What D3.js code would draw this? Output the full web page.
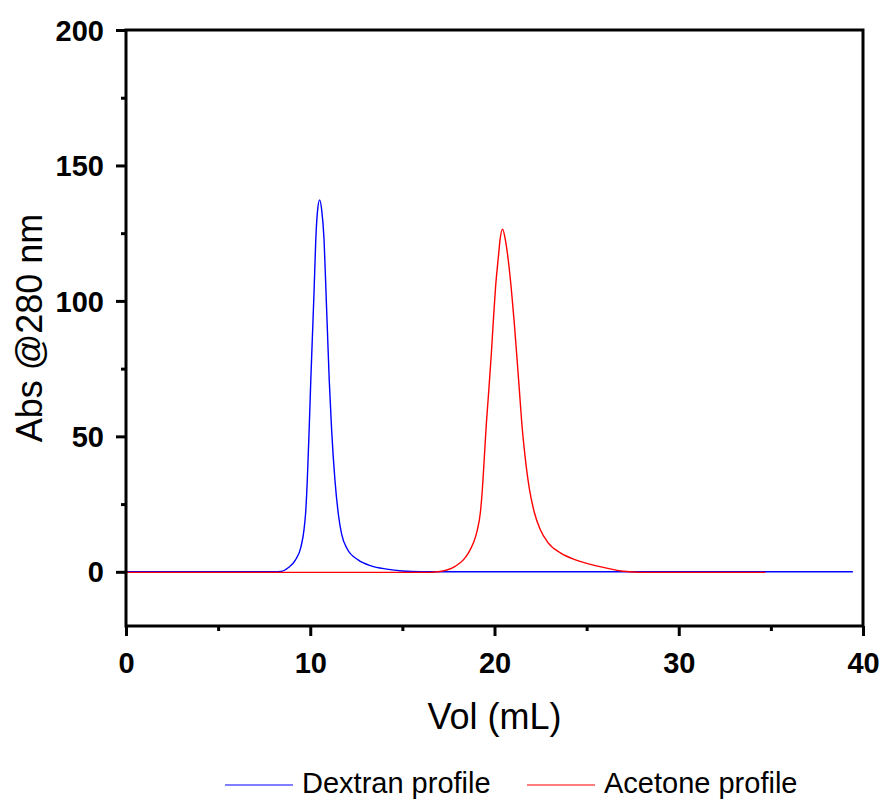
<!DOCTYPE html>
<html>
<head>
<meta charset="utf-8">
<script src="https://cdn.jsdelivr.net/npm/d3@7"></script>
<style>
  body { margin: 0; background: #fff; }
  text { font-family: Arial, "Liberation Sans", sans-serif; }
</style>
</head>
<body>
<script>
// values
var dextranVol = [0, 5, 8.0, 8.4, 8.8, 9.2, 9.5, 9.66, 9.75, 9.84, 9.94, 10.03, 10.11, 10.21, 10.30, 10.40, 10.51,
                  10.62, 10.75, 10.85, 10.95, 11.03, 11.16, 11.34, 11.54, 11.70, 12.0, 12.6, 13.3, 14.15, 15.0, 16, 39.45];
var dextranAbs = [0, 0, 0, 0.1, 1.5, 4.4, 9.3, 15.5, 21.8, 33.9, 52.4, 70.8, 85.6, 104.1, 122.5, 133.6, 137.3,
                  133.6, 122.5, 104.1, 85.6, 70.8, 52.4, 33.9, 20.5, 14.0, 8.5, 4.4, 2.2, 1.0, 0.3, 0, 0];

var acetoneVol = [0, 16.5, 17.04, 17.86, 18.31, 18.58, 18.85, 19.07, 19.23, 19.34, 19.45, 19.56, 19.68, 19.83, 19.94,
                  20.06, 20.23, 20.30, 20.44, 20.59, 20.70, 20.90, 21.06, 21.20, 21.34, 21.48, 21.66, 21.90, 22.16,
                  22.47, 22.90, 23.60, 24.40, 25.60, 27.0, 28, 34.7];
var acetoneAbs = [-0.2, -0.2, 0.1, 2.0, 4.4, 6.9, 10.6, 15.5, 21.7, 30.3, 42.5, 54.9, 66, 80.7, 93.0,
                  105.3, 117.6, 122.5, 126.5, 122.5, 117.6, 105.3, 93.0, 80.7, 68, 55, 42.5, 30.3, 22,
                  15.8, 10.8, 6.9, 4.4, 2.1, 0.2, -0.2, -0.2];

var seriesNames = ["Dextran profile", "Acetone profile"],
    seriesColors = ["#0000ff", "#ff0000"];

var xTicks = [0, 10, 20, 30, 40],
    xMinor = [5, 15, 25, 35],
    yTicks = [0, 50, 100, 150, 200],
    yMinor = [25, 75, 125, 175];

var width = 882,
    height = 800,
    lPad = 126,
    rPad = 19,
    tPad = 30,
    bPad = 174;

var xScale = d3.scaleLinear().domain([0, 40]).range([lPad, width - rPad]),
    yScale = d3.scaleLinear().domain([-20, 200]).range([height - bPad, tPad]);

var svg = d3.select("body").append("svg")
    .attr("width", width)
    .attr("height", height);

function pairs(xs, ys) {
  return xs.map(function(x, i) { return [x, ys[i]]; });
}

var line = d3.line()
    .x(function(d) { return xScale(d[0]); })
    .y(function(d) { return yScale(d[1]); })
    .curve(d3.curveMonotoneX);

// clip to plot area
svg.append("clipPath").attr("id", "clip")
  .append("rect")
    .attr("x", lPad).attr("y", tPad)
    .attr("width", width - rPad - lPad)
    .attr("height", height - bPad - tPad);

var plot = svg.append("g").attr("clip-path", "url(#clip)");
var data = [pairs(dextranVol, dextranAbs), pairs(acetoneVol, acetoneAbs)];
for (var s = 0; s < data.length; s++) {
  plot.append("path")
    .datum(data[s])
    .attr("d", line)
    .attr("fill", "none")
    .attr("stroke", seriesColors[s])
    .attr("stroke-width", 1.4);
}

// axes
var xAxis = d3.axisBottom(xScale).tickValues(xTicks).tickSize(10).tickPadding(8).tickFormat(d3.format("d"));
var xAxisMinor = d3.axisBottom(xScale).tickValues(xMinor).tickSize(5).tickFormat("");
var yAxis = d3.axisLeft(yScale).tickValues(yTicks).tickSize(10).tickPadding(12).tickFormat(d3.format("d"));
var yAxisMinor = d3.axisLeft(yScale).tickValues(yMinor).tickSize(5).tickFormat("");

function styleAxis(g) {
  g.select(".domain").remove();
  g.selectAll("line").attr("stroke", "#000").attr("stroke-width", 3);
  g.selectAll("text")
    .attr("fill", "#000")
    .style("font-size", "29px")
    .style("font-weight", "bold")
    .style("font-family", "Arial, 'Liberation Sans', sans-serif");
}

svg.append("g")
  .attr("transform", "translate(0," + (height - bPad) + ")")
  .call(xAxis).call(styleAxis);
svg.append("g")
  .attr("transform", "translate(0," + (height - bPad) + ")")
  .call(xAxisMinor).call(styleAxis);
svg.append("g")
  .attr("transform", "translate(" + lPad + ",0)")
  .call(yAxis).call(styleAxis);
svg.append("g")
  .attr("transform", "translate(" + lPad + ",0)")
  .call(yAxisMinor).call(styleAxis);

svg.selectAll(".tick text").attr("dy", null);
svg.selectAll(".tick text").each(function() {
  var t = d3.select(this);
  if (t.attr("y") != null && +t.attr("y") > 0) t.attr("y", 47);
  else t.attr("dy", "0.35em");
});

// frame
svg.append("rect")
  .attr("x", lPad).attr("y", tPad)
  .attr("width", width - rPad - lPad)
  .attr("height", height - bPad - tPad)
  .attr("fill", "none")
  .attr("stroke", "#000")
  .attr("stroke-width", 3);

// titles
svg.append("text")
  .attr("x", (lPad + width - rPad) / 2)
  .attr("y", 729)
  .attr("text-anchor", "middle")
  .style("font-size", "36px")
  .text("Vol (mL)");

svg.append("text")
  .attr("transform", "translate(42," + ((tPad + height - bPad) / 2) + ") rotate(-90)")
  .attr("text-anchor", "middle")
  .style("font-size", "36px")
  .text("Abs @280 nm");

// legend
var legX = [225, 527];
for (var i = 0; i < seriesNames.length; i++) {
  svg.append("line")
    .attr("x1", legX[i]).attr("x2", legX[i] + 68)
    .attr("y1", 785).attr("y2", 785)
    .attr("stroke", seriesColors[i])
    .attr("stroke-width", 1.2);
  svg.append("text")
    .attr("x", legX[i] + 77)
    .attr("y", 793)
    .style("font-size", "29px")
    .text(seriesNames[i]);
}
</script>
</body>
</html>
